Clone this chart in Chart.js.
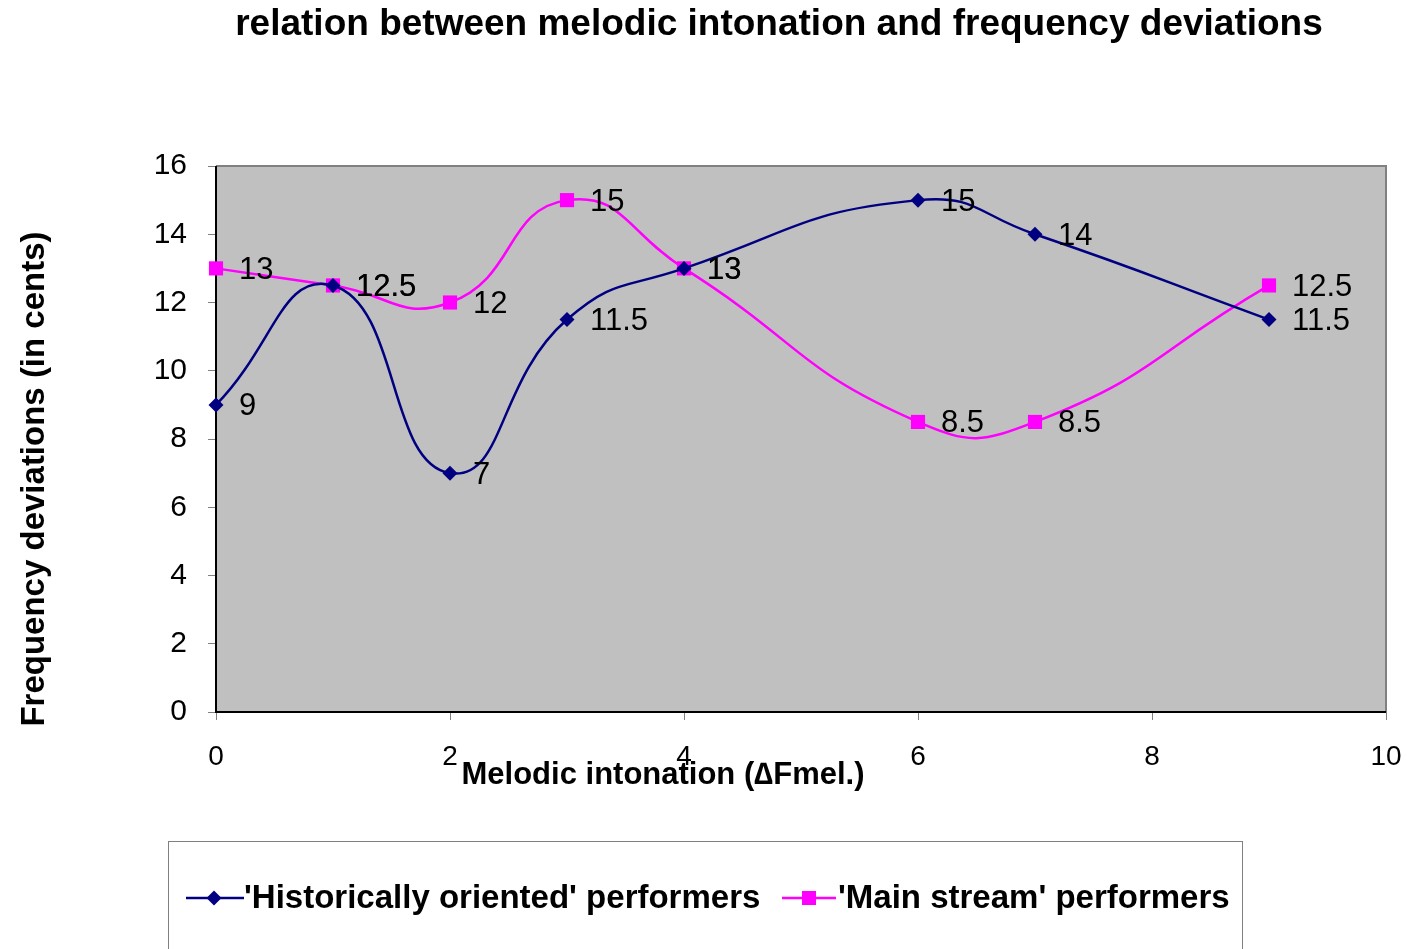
<!DOCTYPE html>
<html>
<head>
<meta charset="utf-8">
<script src="https://cdn.jsdelivr.net/npm/chart.js@4/dist/chart.umd.min.js"></script>
<style>
html,body{margin:0;padding:0;background:#fff;}
#wrap{width:1407px;height:949px;position:relative;}
</style>
</head>
<body>
<div id="wrap"><canvas id="c" width="1407" height="949"></canvas></div>
<script>
const titleText = "relation between melodic intonation and frequency deviations";
const xTitle = "Melodic intonation (\u2206Fmel.)";
const yTitle = "Frequency deviations (in cents)";
const seriesNames = ["'Historically oriented' performers", "'Main stream' performers"];
const histX = [0, 1, 2, 3, 4, 6, 7, 9];
const histY = [9, 12.5, 7, 11.5, 13, 15, 14, 11.5];
const mainX = [0, 1, 2, 3, 4, 6, 7, 9];
const mainY = [13, 12.5, 12, 15, 13, 8.5, 8.5, 12.5];
const xTicks = [0, 2, 4, 6, 8, 10];
const yTicks = [0, 2, 4, 6, 8, 10, 12, 14, 16];

const FONT = "'Liberation Sans', Arial, Helvetica, sans-serif";
const NAVY = '#000080', MAG = '#FF00FF';

const toPts = (xs, ys) => xs.map((x, i) => ({x: x, y: ys[i]}));

const decor = {
  id: 'decor',
  beforeDatasetsDraw(chart) {
    const {ctx, chartArea: a} = chart;
    ctx.save();
    ctx.fillStyle = '#C0C0C0';
    ctx.fillRect(a.left, a.top, a.right - a.left, a.bottom - a.top);
    ctx.strokeStyle = '#808080';
    ctx.lineWidth = 2;
    ctx.beginPath();
    ctx.moveTo(a.left, a.top); ctx.lineTo(a.right, a.top); ctx.lineTo(a.right, a.bottom);
    ctx.stroke();
    ctx.strokeStyle = '#000';
    ctx.beginPath();
    ctx.moveTo(a.left, a.top); ctx.lineTo(a.left, a.bottom); ctx.lineTo(a.right, a.bottom);
    ctx.stroke();
    ctx.restore();
  },
  afterDatasetsDraw(chart) {
    const {ctx} = chart;
    ctx.save();
    ctx.fillStyle = '#000';
    ctx.font = '31px ' + FONT;
    ctx.textAlign = 'left';
    ctx.textBaseline = 'middle';
    chart.data.datasets.forEach((ds, di) => {
      const meta = chart.getDatasetMeta(di);
      meta.data.forEach((el, i) => {
        ctx.fillText(String(ds.data[i].y), el.x + 23, el.y + 2);
      });
    });
    // titles
    ctx.font = 'bold 37px ' + FONT;
    ctx.textAlign = 'center';
    ctx.fillText(titleText, 779, 25);
    ctx.font = 'bold 31px ' + FONT;
    ctx.fillText(xTitle, 663, 775);
    ctx.save();
    ctx.font = 'bold 33px ' + FONT;
    ctx.translate(35, 479);
    ctx.rotate(-Math.PI / 2);
    ctx.fillText(yTitle, 0, 0);
    ctx.restore();
    // legend
    ctx.strokeStyle = '#808080';
    ctx.lineWidth = 1;
    ctx.strokeRect(168.5, 841.5, 1074, 140);
    const ly = 898;
    ctx.lineWidth = 2.5;
    ctx.strokeStyle = NAVY;
    ctx.beginPath(); ctx.moveTo(186, ly); ctx.lineTo(244, ly); ctx.stroke();
    ctx.fillStyle = NAVY;
    ctx.beginPath();
    ctx.moveTo(214, ly - 7.5); ctx.lineTo(221.5, ly); ctx.lineTo(214, ly + 7.5); ctx.lineTo(206.5, ly);
    ctx.closePath(); ctx.fill();
    ctx.strokeStyle = MAG;
    ctx.beginPath(); ctx.moveTo(782, ly); ctx.lineTo(836, ly); ctx.stroke();
    ctx.fillStyle = MAG;
    ctx.fillRect(802, ly - 7, 14, 14);
    ctx.fillStyle = '#000';
    ctx.font = 'bold 33px ' + FONT;
    ctx.textAlign = 'left';
    ctx.fillText(seriesNames[0], 244, ly + 1);
    ctx.fillText(seriesNames[1], 838, ly + 1);
    ctx.restore();
  }
};

new Chart(document.getElementById('c'), {
  type: 'scatter',
  data: {
    datasets: [
      {label: seriesNames[0], data: toPts(histX, histY), showLine: true, borderColor: NAVY, backgroundColor: NAVY,
       borderWidth: 2.5, tension: 0.5, pointStyle: 'rectRot', pointRadius: 7.5, pointHoverRadius: 7.5, pointBorderWidth: 0, clip: false},
      {label: seriesNames[1], data: toPts(mainX, mainY), showLine: true, borderColor: MAG, backgroundColor: MAG,
       borderWidth: 2.5, tension: 0.5, pointStyle: 'rect', pointRadius: 10, pointHoverRadius: 10, pointBorderWidth: 0, clip: false}
    ]
  },
  options: {
    responsive: false,
    animation: false,
    events: [],
    layout: {padding: {left: 0, right: 21, top: 166, bottom: 177}},
    plugins: {legend: {display: false}, title: {display: false}, tooltip: {enabled: false}},
    scales: {
      x: {
        type: 'linear', min: 0, max: 10,
        afterFit: s => { s.height = 60; s.paddingLeft = 0; s.paddingRight = 0; },
        afterBuildTicks: s => { s.ticks = xTicks.map(v => ({value: v})); },
        border: {display: false},
        grid: {drawOnChartArea: false, drawTicks: true, tickLength: 8, color: '#808080', lineWidth: 1},
        ticks: {color: '#000', font: {family: FONT, size: 28}, padding: 20, maxRotation: 0}
      },
      y: {
        type: 'linear', min: 0, max: 16,
        afterFit: s => { s.width = 216; s.paddingTop = 0; s.paddingBottom = 0; },
        afterBuildTicks: s => { s.ticks = yTicks.map(v => ({value: v})); },
        border: {display: false},
        grid: {drawOnChartArea: false, drawTicks: true, tickLength: 8, color: '#808080', lineWidth: 1},
        ticks: {color: '#000', font: {family: FONT, size: 30}, padding: 21}
      }
    }
  },
  plugins: [decor]
});
</script>
</body>
</html>
